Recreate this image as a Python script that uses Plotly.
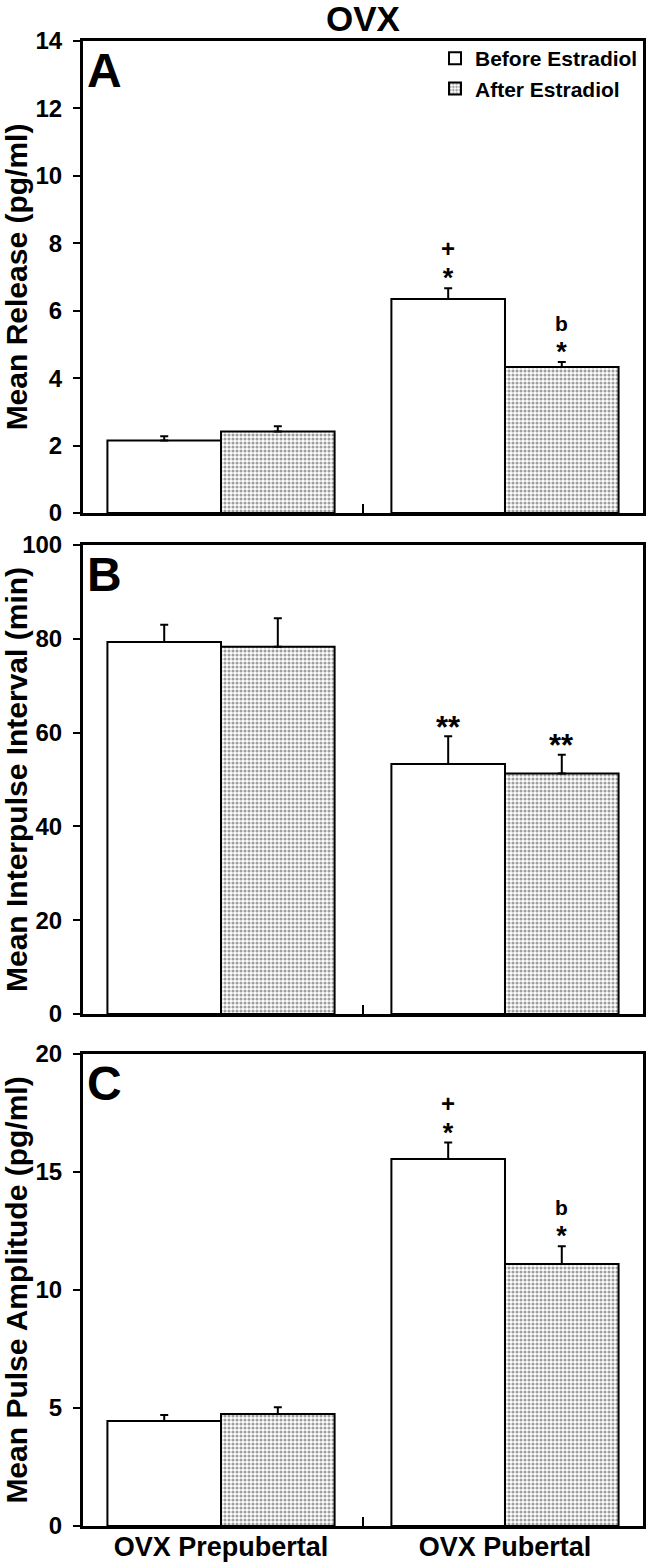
import plotly.graph_objects as go
from plotly.subplots import make_subplots

categories = ["OVX Prepubertal", "OVX Pubertal"]
series_names = ["Before Estradiol", "After Estradiol"]

release_before = [2.15, 6.35]
release_before_err = [0.13, 0.32]
release_after = [2.42, 4.33]
release_after_err = [0.15, 0.15]

interval_before = [79.3, 53.3]
interval_before_err = [3.7, 5.9]
interval_after = [78.3, 51.3]
interval_after_err = [6.1, 4.0]

amplitude_before = [4.45, 15.55]
amplitude_before_err = [0.25, 0.70]
amplitude_after = [4.75, 11.10]
amplitude_after_err = [0.28, 0.75]

y_titles = ["Mean Release (pg/ml)", "Mean Interpulse Interval (min)", "Mean Pulse Amplitude (pg/ml)"]
panel_letters = ["A", "B", "C"]
y_ranges = [[0, 14], [0, 100], [0, 20]]
y_dticks = [2, 20, 5]

# significance marks per panel: {(series index, category index): [upper mark, lower mark]}
marks = [
    {(0, 1): ["+", "*"], (1, 1): ["b", "*"]},
    {(0, 1): ["**"], (1, 1): ["**"]},
    {(0, 1): ["+", "*"], (1, 1): ["b", "*"]},
]

panels = [
    (release_before, release_before_err, release_after, release_after_err),
    (interval_before, interval_before_err, interval_after, interval_after_err),
    (amplitude_before, amplitude_before_err, amplitude_after, amplitude_after_err),
]

FONT = "Liberation Sans"
W, H = 650, 1567
ML, MR, MT, MB = 83, 7, 41, 41
ph = H - MT - MB


def py(px):
    return (H - MB - px) / ph


domains = [[py(513), py(41)], [py(1014), py(545)], [py(1526), py(1054)]]
mark_sizes = {"*": 27, "**": 31, "+": 24, "b": 21}

fig = make_subplots(rows=3, cols=1)
bargap = 0.2
offset = (1 - bargap) / 4
xpos = list(range(len(categories)))

for i, (b, be, a, ae) in enumerate(panels):
    r = i + 1
    sfx = "" if r == 1 else str(r)
    fig.add_trace(go.Bar(
        x=xpos, y=b, name=series_names[0], showlegend=(i == 0), legendgroup="b",
        marker=dict(color="white", line=dict(color="black", width=2)),
        error_y=dict(type="data", array=be, arrayminus=[0] * len(be), symmetric=False,
                     color="black", thickness=2, width=4),
    ), row=r, col=1)
    fig.add_trace(go.Bar(
        x=xpos, y=a, name=series_names[1], showlegend=(i == 0), legendgroup="a",
        marker=dict(color="white", line=dict(color="black", width=2),
                    pattern=dict(shape=".", fgcolor="#404040", bgcolor="white", size=4, solidity=0.47)),
        error_y=dict(type="data", array=ae, arrayminus=[0] * len(ae), symmetric=False,
                     color="black", thickness=2, width=4),
    ), row=r, col=1)

    # significance annotations (stacked marks in a single text block)
    vals = [(b, be), (a, ae)]
    for (s, c), txts in marks[i].items():
        top = vals[s][0][c] + vals[s][1][c]
        xx = xpos[c] + (-offset if s == 0 else offset)
        text = "<br>".join(f"<span style='font-size:{mark_sizes[t]}px'>{t}</span>" for t in txts)
        low = mark_sizes[txts[-1]]
        shift = 15 - 0.78 * low - 1
        fig.add_annotation(x=xx, y=top, xref=f"x{sfx}", yref=f"y{sfx}",
                           text=text, showarrow=False, yanchor="bottom", yshift=shift,
                           font=dict(family=FONT, size=23, color="black", weight="bold"))

    # panel letter
    fig.add_annotation(x=0.004, y=1.0, xref=f"x{sfx} domain", yref=f"y{sfx} domain",
                       text=panel_letters[i], showarrow=False, xanchor="left", yanchor="top", yshift=-1,
                       font=dict(family=FONT, size=48, color="black", weight="bold"))

    fig.update_yaxes(
        row=r, col=1, domain=domains[i], range=y_ranges[i], dtick=y_dticks[i], tick0=0,
        showline=True, linewidth=3, linecolor="black", mirror=True,
        ticks="outside", ticklen=7, tickwidth=2, tickcolor="black", ticklabelstandoff=6,
        showgrid=False, zeroline=False, automargin=False,
        tickfont=dict(family=FONT, size=24, color="black", weight="bold"),
        title=dict(text=y_titles[i], standoff=6,
                   font=dict(family=FONT, size=30, color="black", weight="bold")),
    )
    fig.update_xaxes(
        row=r, col=1, range=[-0.486, 1.486], tickmode="array", tickvals=xpos,
        ticktext=categories, showticklabels=(r == 3), ticks="", ticklabelstandoff=-5,
        minor=dict(tickmode="array", tickvals=[0.5], ticks="inside", ticklen=9, tickwidth=2, tickcolor="black"),
        showline=True, linewidth=3, linecolor="black", mirror=True,
        showgrid=False, zeroline=False, automargin=False,
        tickfont=dict(family=FONT, size=27, color="black", weight="bold"),
    )

fig.add_annotation(x=0.5, y=1, xref="paper", yref="paper", yanchor="bottom", yshift=1,
                   text="OVX", showarrow=False,
                   font=dict(family=FONT, size=35, color="black", weight="bold"))

fig.update_layout(
    width=W, height=H, margin=dict(l=ML, r=MR, t=MT, b=MB, autoexpand=False),
    barmode="group", bargap=bargap, bargroupgap=0,
    plot_bgcolor="white", paper_bgcolor="white",
    font=dict(family=FONT, color="black"),
    legend=dict(x=1, xanchor="right", y=1.002, yanchor="top", bgcolor="rgba(0,0,0,0)",
                font=dict(family=FONT, size=21, color="black", weight="bold"),
                tracegroupgap=0, itemwidth=30),
)

fig.write_html("out.html", config={"displayModeBar": False},
               post_script="document.body.style.margin='0px';")
